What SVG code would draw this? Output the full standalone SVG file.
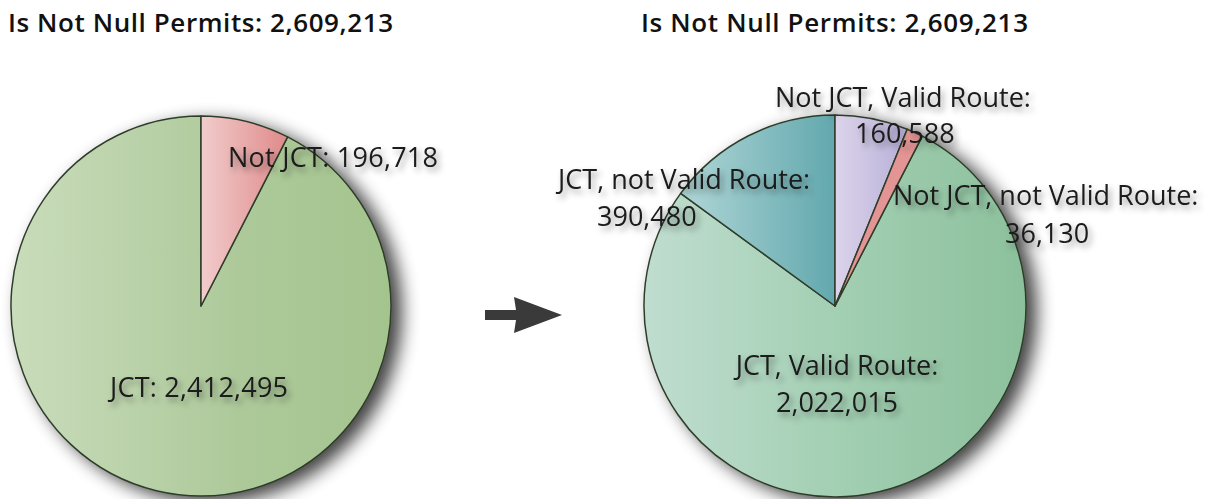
<svg xmlns="http://www.w3.org/2000/svg" width="1212" height="499" viewBox="0 0 1212 499">
<defs>
<linearGradient id="gL" x1="0" y1="0" x2="1" y2="0"><stop offset="0" stop-color="#c9dcbb"/><stop offset="0.6" stop-color="#adc99a"/><stop offset="1" stop-color="#a4c48e"/></linearGradient>
<linearGradient id="rL" x1="0" y1="0" x2="1" y2="0"><stop offset="0" stop-color="#f2cccc"/><stop offset="1" stop-color="#df8a8a"/></linearGradient>
<linearGradient id="gR" x1="0" y1="0" x2="1" y2="0"><stop offset="0" stop-color="#c0ddd0"/><stop offset="0.5" stop-color="#a3cfb3"/><stop offset="1" stop-color="#8cc09c"/></linearGradient>
<linearGradient id="tR" x1="0" y1="0" x2="1" y2="0"><stop offset="0" stop-color="#b0d6d6"/><stop offset="1" stop-color="#62a8ae"/></linearGradient>
<linearGradient id="lR" x1="0" y1="0" x2="1" y2="0"><stop offset="0" stop-color="#dcd4ea"/><stop offset="1" stop-color="#b8b0d8"/></linearGradient>
<filter id="pieShadow" x="-20%" y="-20%" width="150%" height="150%">
<feGaussianBlur in="SourceAlpha" stdDeviation="9"/>
<feOffset dx="10" dy="6" result="b"/>
<feComponentTransfer in="b" result="s"><feFuncA type="linear" slope="0.75"/></feComponentTransfer>
<feMerge><feMergeNode in="s"/><feMergeNode in="SourceGraphic"/></feMerge>
</filter>
<filter id="txtShadow" x="-10%" y="-30%" width="120%" height="170%">
<feDropShadow dx="3" dy="4" stdDeviation="3" flood-color="#000" flood-opacity="0.4"/>
</filter>
</defs>
<style>
.title{font-family:"Open Sans","Liberation Sans",sans-serif;font-weight:600;font-size:26px;fill:#111}
.lbl{font-family:"Open Sans","Liberation Sans",sans-serif;font-size:27px;fill:#1a1a1a}
.slice{stroke:#2f3d2a;stroke-width:1.5;stroke-linejoin:round}
</style>
<rect width="1212" height="499" fill="#ffffff"/>
<g id="title-left"><text class="title" x="8" y="32" textLength="385">Is Not Null Permits: 2,609,213</text></g>
<g id="title-right"><text class="title" x="641" y="32" textLength="387">Is Not Null Permits: 2,609,213</text></g>
<g id="pie-left" filter="url(#pieShadow)">
<path class="slice" fill="url(#gL)" d="M201,306 L287.6,136.9 A190,190 0 1 1 201,116 Z"/>
<path class="slice" fill="url(#rL)" d="M201,306 L201,116 A190,190 0 0 1 287.6,136.9 Z"/>
</g>
<g id="pie-right" filter="url(#pieShadow)">
<path class="slice" fill="url(#gR)" d="M835,306 L922.3,136.1 A191,191 0 1 1 680.7,193.4 Z"/>
<path class="slice" fill="url(#tR)" d="M835,306 L680.7,193.4 A191,191 0 0 1 835,115 Z"/>
<path class="slice" fill="url(#lR)" d="M835,306 L835,115 A191,191 0 0 1 907.2,129.2 Z"/>
<path class="slice" fill="#e39494" d="M835,306 L907.2,129.2 A191,191 0 0 1 922.3,136.1 Z"/>
</g>
<g id="connectors">
<path d="M485,310 L516,310 L514,297 L562,315 L514,333 L516,320 L485,320 Z" fill="#3a3a3a"/>
</g>
<g id="labels" filter="url(#txtShadow)">
<text class="lbl" x="228" y="167" textLength="210">Not JCT: 196,718</text>
<text class="lbl" x="110" y="397" textLength="178">JCT: 2,412,495</text>
<text class="lbl" x="775" y="107">Not JCT, Valid Route:</text>
<text class="lbl" x="855" y="143">160,588</text>
<text class="lbl" x="558" y="189">JCT, not Valid Route:</text>
<text class="lbl" x="597" y="226">390,480</text>
<text class="lbl" x="893" y="205">Not JCT, not Valid Route:</text>
<text class="lbl" x="1005" y="243">36,130</text>
<text class="lbl" x="837" y="375" text-anchor="middle">JCT, Valid Route:</text>
<text class="lbl" x="837" y="412" text-anchor="middle">2,022,015</text>
</g>
</svg>
